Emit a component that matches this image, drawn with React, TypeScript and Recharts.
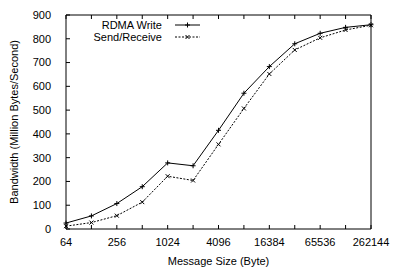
import React from 'react';
import { LineChart, Line, XAxis, YAxis, Label, Customized } from 'recharts';

const messageSizes = [64, 128, 256, 512, 1024, 2048, 4096, 8192, 16384, 32768, 65536, 131072, 262144];
const rdmaWrite = [25, 55, 107, 178, 278, 266, 415, 571, 683, 779, 823, 848, 859];
const sendReceive = [12, 27, 56, 113, 222, 204, 356, 507, 652, 753, 804, 837, 857];
const xTickLabels = ['64', '', '256', '', '1024', '', '4096', '', '16384', '', '65536', '', '262144'];
const yTicks = [0, 100, 200, 300, 400, 500, 600, 700, 800, 900];
const seriesNames = ['RDMA Write', 'Send/Receive'];

const data = messageSizes.map((s, i) => ({ x: Math.log2(s), rdma: rdmaWrite[i], send: sendReceive[i] }));
const xTicks = messageSizes.map((s) => Math.log2(s));
const labelFor = (v: number) => xTickLabels[xTicks.indexOf(v)] ?? '';

const FONT = 'Liberation Sans, Arial, Helvetica, sans-serif';
const tickStyle = { fontFamily: FONT, fontSize: 11, fill: '#000' };

const PlusDot = (props: any) => {
  const { cx, cy, index } = props;
  if (cx == null || cy == null) return <g key={`p${index}`} />;
  return (
    <path key={`p${index}`} d={`M${cx - 2.5},${cy}H${cx + 2.5}M${cx},${cy - 2.5}V${cy + 2.5}`} stroke="#000" strokeWidth={1} fill="none" />
  );
};

const CrossDot = (props: any) => {
  const { cx, cy, index } = props;
  if (cx == null || cy == null) return <g key={`c${index}`} />;
  return (
    <path key={`c${index}`} d={`M${cx - 2},${cy - 2}L${cx + 2},${cy + 2}M${cx - 2},${cy + 2}L${cx + 2},${cy - 2}`} stroke="#000" strokeWidth={1} fill="none" />
  );
};

const LegendBox = () => (
  <g fontFamily={FONT} fontSize={11} fill="#000">
    <text x={162} y={29} textAnchor="end">{seriesNames[0]}</text>
    <line x1={175} x2={200} y1={25} y2={25} stroke="#000" strokeWidth={1} />
    <path d="M185,25H190M187.5,22.5V27.5" stroke="#000" strokeWidth={1} />
    <text x={162} y={41} textAnchor="end">{seriesNames[1]}</text>
    <line x1={175} x2={200} y1={37} y2={37} stroke="#000" strokeWidth={1} strokeDasharray="2 1.5" />
    <path d="M185.5,35L189.5,39M185.5,39L189.5,35" stroke="#000" strokeWidth={1} />
  </g>
);

const YLabel = (props: any) => {
  const vb = props.viewBox || { x: 0, y: 15, width: 66, height: 214 };
  const cx = vb.x + 18;
  const cy = vb.y + vb.height / 2;
  return (
    <text x={cx} y={cy} transform={`rotate(-90 ${cx} ${cy})`} textAnchor="middle" fontFamily={FONT} fontSize={11} fill="#000">
      Bandwidth (Million Bytes/Second)
    </text>
  );
};

export default function App() {
  return (
    <div style={{ position: 'absolute', left: 0, top: 0, width: 395, height: 271, background: '#fff' }}>
      <LineChart width={395} height={271} data={data} margin={{ top: 0, right: 0, bottom: 0, left: 0 }}>
        <XAxis
          dataKey="x"
          type="number"
          domain={[6, 18]}
          ticks={xTicks}
          tickFormatter={labelFor}
          height={42}
          tickSize={-4}
          tickMargin={13}
          axisLine={{ stroke: '#000' }}
          tickLine={{ stroke: '#000' }}
          tick={tickStyle}
          interval={0}
        >
          <Label value="Message Size (Byte)" position="insideBottom" offset={6} style={{ fontFamily: FONT, fontSize: 11, fill: '#000' }} />
        </XAxis>
        <XAxis
          xAxisId="top"
          orientation="top"
          dataKey="x"
          type="number"
          domain={[6, 18]}
          ticks={xTicks}
          tickFormatter={() => ''}
          height={15}
          tickSize={-4}
          axisLine={{ stroke: '#000' }}
          tickLine={{ stroke: '#000' }}
          interval={0}
        />
        <YAxis
          domain={[0, 900]}
          ticks={yTicks}
          width={66}
          tickSize={-4}
          tickMargin={19}
          axisLine={{ stroke: '#000' }}
          tickLine={{ stroke: '#000' }}
          tick={tickStyle}
          interval={0}
        >
          <Label content={YLabel} />
        </YAxis>
        <YAxis
          yAxisId="right"
          orientation="right"
          domain={[0, 900]}
          ticks={yTicks}
          width={24}
          tickSize={-4}
          tickFormatter={() => ''}
          axisLine={{ stroke: '#000' }}
          tickLine={{ stroke: '#000' }}
          interval={0}
        />
        <Line dataKey="rdma" name={seriesNames[0]} stroke="#000" strokeWidth={1} dot={PlusDot} activeDot={false} isAnimationActive={false} />
        <Line dataKey="send" name={seriesNames[1]} stroke="#000" strokeWidth={1} strokeDasharray="2 1.5" dot={CrossDot} activeDot={false} isAnimationActive={false} />
        <Customized component={LegendBox} />
      </LineChart>
    </div>
  );
}
